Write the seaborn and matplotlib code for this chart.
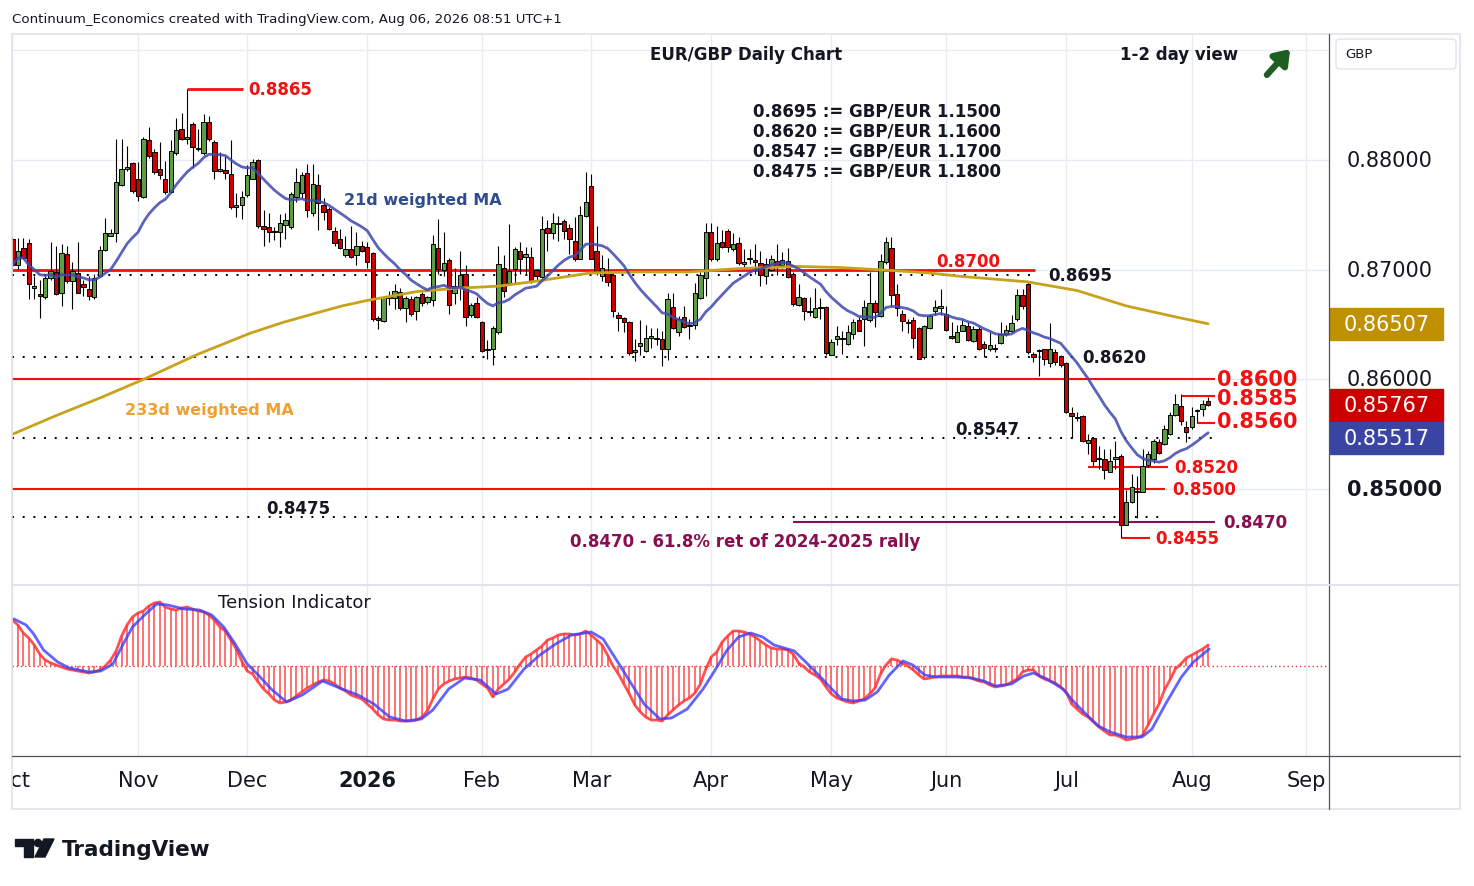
import numpy as np
import pandas as pd
import matplotlib
matplotlib.use("Agg")
import matplotlib.pyplot as plt
import seaborn as sns
from matplotlib.patches import Rectangle, FancyBboxPatch, Polygon, Circle

W, H = 1474, 887

# ---------------- data ----------------
opens = [
    0.8728, 0.8704, 0.8720, 0.8724, 0.8683, 0.8678, 0.8675, 0.8692, 0.8698, 0.8679,
    0.8714, 0.8690, 0.8697, 0.8687, 0.8682, 0.8675, 0.8694, 0.8718, 0.8731, 0.8733,
    0.8777, 0.8792, 0.8797, 0.8783, 0.8766, 0.8818, 0.8807, 0.8792, 0.8783, 0.8771,
    0.8806, 0.8828, 0.8819, 0.8833, 0.8810, 0.8806, 0.8835, 0.8816, 0.8790, 0.8791,
    0.8787, 0.8757, 0.8759, 0.8768, 0.8783, 0.8800, 0.8740, 0.8739, 0.8735, 0.8734,
    0.8741, 0.8739, 0.8766, 0.8770, 0.8788, 0.8752, 0.8777, 0.8759, 0.8755, 0.8735,
    0.8728, 0.8713, 0.8719, 0.8713, 0.8722, 0.8721, 0.8715, 0.8656, 0.8653, 0.8674,
    0.8674, 0.8680, 0.8665, 0.8673, 0.8662, 0.8678, 0.8671, 0.8672, 0.8720, 0.8700,
    0.8709, 0.8679, 0.8684, 0.8696, 0.8659, 0.8670, 0.8652, 0.8627, 0.8628, 0.8643,
    0.8702, 0.8688, 0.8701, 0.8717, 0.8712, 0.8712, 0.8700, 0.8693, 0.8738, 0.8733,
    0.8742, 0.8744, 0.8738, 0.8726, 0.8710, 0.8749, 0.8776, 0.8717, 0.8694, 0.8698,
    0.8695, 0.8659, 0.8656, 0.8652, 0.8625, 0.8630, 0.8626, 0.8638, 0.8638, 0.8637,
    0.8628, 0.8666, 0.8643, 0.8657, 0.8649, 0.8650, 0.8674, 0.8692, 0.8734, 0.8710,
    0.8725, 0.8735, 0.8719, 0.8724, 0.8705, 0.8710, 0.8709, 0.8706, 0.8694, 0.8700,
    0.8708, 0.8704, 0.8708, 0.8696, 0.8668, 0.8674, 0.8662, 0.8657, 0.8665, 0.8666,
    0.8622, 0.8637, 0.8637, 0.8632, 0.8641, 0.8654, 0.8655, 0.8654, 0.8670, 0.8658,
    0.8707, 0.8720, 0.8678, 0.8660, 0.8652, 0.8654, 0.8647, 0.8620, 0.8647, 0.8662,
    0.8665, 0.8660, 0.8640, 0.8634, 0.8644, 0.8649, 0.8635, 0.8646, 0.8632, 0.8628,
    0.8629, 0.8633, 0.8641, 0.8644, 0.8655, 0.8677, 0.8687, 0.8623, 0.8626, 0.8628,
    0.8615, 0.8625, 0.8621, 0.8615, 0.8569, 0.8566, 0.8567, 0.8542, 0.8547, 0.8527,
    0.8527, 0.8516, 0.8527, 0.8530, 0.8467, 0.8488, 0.8497, 0.8497, 0.8522, 0.8527,
    0.8543, 0.8541, 0.8550, 0.8568, 0.8576, 0.8557, 0.8557, 0.8571, 0.8573, 0.8580,
]
highs = [
    0.8731, 0.8729, 0.8729, 0.8728, 0.8694, 0.8691, 0.8694, 0.8725, 0.8722, 0.8723,
    0.8722, 0.8707, 0.8725, 0.8691, 0.8694, 0.8696, 0.8722, 0.8747, 0.8737, 0.8819,
    0.8819, 0.8813, 0.8798, 0.8798, 0.8821, 0.8830, 0.8810, 0.8816, 0.8799, 0.8818,
    0.8838, 0.8843, 0.8865, 0.8835, 0.8828, 0.8842, 0.8840, 0.8818, 0.8807, 0.8804,
    0.8818, 0.8770, 0.8772, 0.8795, 0.8801, 0.8801, 0.8754, 0.8752, 0.8739, 0.8751,
    0.8752, 0.8771, 0.8793, 0.8789, 0.8796, 0.8796, 0.8787, 0.8765, 0.8757, 0.8739,
    0.8737, 0.8731, 0.8740, 0.8734, 0.8726, 0.8725, 0.8716, 0.8658, 0.8676, 0.8681,
    0.8687, 0.8683, 0.8676, 0.8676, 0.8676, 0.8680, 0.8676, 0.8732, 0.8746, 0.8734,
    0.8711, 0.8702, 0.8717, 0.8704, 0.8670, 0.8675, 0.8653, 0.8636, 0.8649, 0.8722,
    0.8713, 0.8742, 0.8721, 0.8725, 0.8721, 0.8721, 0.8701, 0.8749, 0.8745, 0.8752,
    0.8749, 0.8746, 0.8742, 0.8748, 0.8758, 0.8789, 0.8787, 0.8740, 0.8713, 0.8711,
    0.8698, 0.8661, 0.8657, 0.8653, 0.8637, 0.8654, 0.8650, 0.8647, 0.8647, 0.8644,
    0.8679, 0.8679, 0.8658, 0.8667, 0.8655, 0.8688, 0.8698, 0.8743, 0.8743, 0.8740,
    0.8736, 0.8737, 0.8733, 0.8730, 0.8719, 0.8719, 0.8723, 0.8717, 0.8711, 0.8713,
    0.8723, 0.8716, 0.8720, 0.8698, 0.8687, 0.8675, 0.8675, 0.8683, 0.8674, 0.8667,
    0.8637, 0.8649, 0.8644, 0.8650, 0.8655, 0.8657, 0.8672, 0.8698, 0.8672, 0.8714,
    0.8730, 0.8730, 0.8687, 0.8663, 0.8655, 0.8657, 0.8648, 0.8650, 0.8660, 0.8672,
    0.8682, 0.8667, 0.8652, 0.8650, 0.8654, 0.8652, 0.8649, 0.8649, 0.8635, 0.8643,
    0.8632, 0.8652, 0.8650, 0.8659, 0.8682, 0.8682, 0.8689, 0.8625, 0.8628, 0.8628,
    0.8651, 0.8628, 0.8622, 0.8616, 0.8575, 0.8570, 0.8568, 0.8550, 0.8547, 0.8539,
    0.8537, 0.8537, 0.8544, 0.8532, 0.8499, 0.8514, 0.8512, 0.8537, 0.8535, 0.8546,
    0.8546, 0.8558, 0.8570, 0.8587, 0.8587, 0.8562, 0.8575, 0.8573, 0.8581, 0.8584,
]
lows = [
    0.8702, 0.8701, 0.8710, 0.8673, 0.8673, 0.8656, 0.8673, 0.8691, 0.8677, 0.8667,
    0.8688, 0.8664, 0.8679, 0.8676, 0.8672, 0.8673, 0.8694, 0.8717, 0.8731, 0.8725,
    0.8776, 0.8790, 0.8770, 0.8763, 0.8765, 0.8802, 0.8787, 0.8783, 0.8769, 0.8770,
    0.8805, 0.8818, 0.8815, 0.8793, 0.8808, 0.8805, 0.8817, 0.8783, 0.8789, 0.8783,
    0.8755, 0.8748, 0.8746, 0.8766, 0.8783, 0.8738, 0.8722, 0.8725, 0.8727, 0.8721,
    0.8728, 0.8737, 0.8762, 0.8765, 0.8748, 0.8749, 0.8736, 0.8745, 0.8736, 0.8722,
    0.8719, 0.8712, 0.8711, 0.8704, 0.8716, 0.8702, 0.8653, 0.8646, 0.8652, 0.8668,
    0.8664, 0.8663, 0.8652, 0.8658, 0.8654, 0.8667, 0.8669, 0.8667, 0.8696, 0.8694,
    0.8660, 0.8669, 0.8672, 0.8649, 0.8657, 0.8656, 0.8625, 0.8619, 0.8613, 0.8641,
    0.8675, 0.8687, 0.8688, 0.8696, 0.8695, 0.8688, 0.8690, 0.8692, 0.8717, 0.8728,
    0.8726, 0.8728, 0.8714, 0.8708, 0.8710, 0.8748, 0.8710, 0.8695, 0.8690, 0.8685,
    0.8657, 0.8644, 0.8643, 0.8622, 0.8617, 0.8622, 0.8625, 0.8629, 0.8631, 0.8612,
    0.8618, 0.8646, 0.8640, 0.8647, 0.8637, 0.8646, 0.8673, 0.8676, 0.8708, 0.8708,
    0.8720, 0.8716, 0.8717, 0.8704, 0.8701, 0.8705, 0.8696, 0.8685, 0.8687, 0.8699,
    0.8695, 0.8702, 0.8692, 0.8667, 0.8667, 0.8654, 0.8658, 0.8656, 0.8655, 0.8622,
    0.8622, 0.8631, 0.8623, 0.8631, 0.8637, 0.8644, 0.8630, 0.8652, 0.8648, 0.8657,
    0.8705, 0.8667, 0.8658, 0.8644, 0.8642, 0.8629, 0.8619, 0.8619, 0.8646, 0.8659,
    0.8659, 0.8644, 0.8637, 0.8634, 0.8644, 0.8635, 0.8634, 0.8627, 0.8620, 0.8626,
    0.8625, 0.8632, 0.8640, 0.8643, 0.8653, 0.8664, 0.8623, 0.8616, 0.8603, 0.8613,
    0.8611, 0.8613, 0.8611, 0.8569, 0.8547, 0.8562, 0.8543, 0.8532, 0.8521, 0.8518,
    0.8509, 0.8516, 0.8518, 0.8455, 0.8467, 0.8487, 0.8474, 0.8497, 0.8520, 0.8524,
    0.8532, 0.8540, 0.8549, 0.8567, 0.8558, 0.8543, 0.8555, 0.8561, 0.8567, 0.8576,
]
closes = [
    0.8704, 0.8717, 0.8711, 0.8687, 0.8685, 0.8676, 0.8692, 0.8699, 0.8678, 0.8715,
    0.8690, 0.8699, 0.8679, 0.8684, 0.8676, 0.8692, 0.8718, 0.8733, 0.8733, 0.8780,
    0.8792, 0.8794, 0.8772, 0.8767, 0.8819, 0.8804, 0.8789, 0.8786, 0.8771, 0.8808,
    0.8827, 0.8819, 0.8821, 0.8812, 0.8810, 0.8835, 0.8819, 0.8790, 0.8792, 0.8788,
    0.8757, 0.8759, 0.8766, 0.8786, 0.8798, 0.8740, 0.8737, 0.8734, 0.8734, 0.8743,
    0.8745, 0.8769, 0.8780, 0.8786, 0.8754, 0.8778, 0.8761, 0.8753, 0.8737, 0.8724,
    0.8720, 0.8719, 0.8712, 0.8722, 0.8717, 0.8707, 0.8655, 0.8654, 0.8675, 0.8676,
    0.8681, 0.8665, 0.8674, 0.8660, 0.8675, 0.8670, 0.8675, 0.8723, 0.8701, 0.8706,
    0.8668, 0.8685, 0.8695, 0.8657, 0.8668, 0.8657, 0.8626, 0.8628, 0.8647, 0.8705,
    0.8681, 0.8699, 0.8719, 0.8710, 0.8714, 0.8690, 0.8694, 0.8737, 0.8733, 0.8743,
    0.8743, 0.8735, 0.8728, 0.8710, 0.8750, 0.8762, 0.8710, 0.8698, 0.8702, 0.8689,
    0.8662, 0.8656, 0.8652, 0.8624, 0.8627, 0.8633, 0.8638, 0.8640, 0.8637, 0.8628,
    0.8673, 0.8647, 0.8655, 0.8648, 0.8649, 0.8679, 0.8695, 0.8734, 0.8710, 0.8724,
    0.8721, 0.8721, 0.8723, 0.8706, 0.8707, 0.8711, 0.8707, 0.8695, 0.8705, 0.8710,
    0.8703, 0.8709, 0.8693, 0.8669, 0.8675, 0.8662, 0.8661, 0.8665, 0.8665, 0.8624,
    0.8634, 0.8640, 0.8637, 0.8643, 0.8652, 0.8644, 0.8666, 0.8670, 0.8661, 0.8708,
    0.8725, 0.8677, 0.8665, 0.8653, 0.8651, 0.8638, 0.8619, 0.8649, 0.8658, 0.8666,
    0.8667, 0.8645, 0.8638, 0.8643, 0.8650, 0.8636, 0.8646, 0.8628, 0.8629, 0.8631,
    0.8628, 0.8641, 0.8645, 0.8651, 0.8677, 0.8667, 0.8625, 0.8620, 0.8627, 0.8619,
    0.8628, 0.8616, 0.8613, 0.8570, 0.8567, 0.8565, 0.8544, 0.8545, 0.8526, 0.8528,
    0.8517, 0.8526, 0.8529, 0.8467, 0.8488, 0.8502, 0.8498, 0.8521, 0.8532, 0.8544,
    0.8533, 0.8555, 0.8568, 0.8578, 0.8562, 0.8552, 0.8567, 0.8572, 0.8578, 0.85767,
]

# 233d weighted MA, read at a set of bars
ma233_bars = [0, 8, 16, 24, 34, 43.5, 49.6, 56, 60.4, 65, 69.5, 74, 81, 89, 96.6,
              105.8, 115, 124, 133, 143.7, 151.6, 162, 168, 173.5, 185.8, 195, 204,
              213, 219]
ma233_vals = [0.8550, 0.8567, 0.8583, 0.8600, 0.8623, 0.8642, 0.8652, 0.8661, 0.8667,
              0.8672, 0.8676, 0.8680, 0.8683, 0.8685, 0.8690, 0.8697, 0.8698, 0.8698,
              0.8701, 0.8703, 0.8702, 0.8699, 0.8697, 0.8694, 0.8689, 0.8681, 0.8667,
              0.8657, 0.86507]

# Tension indicator (arbitrary units), red per bar, blue signal line
tension_red = [
    4.6, 4.1, 3.3, 2.8, 2.1, 1.2, 0.6, 0.3, 0.1, -0.1,
    -0.3, -0.4, -0.5, -0.6, -0.7, -0.6, -0.4, 0.0, 0.6, 1.5,
    3.0, 4.1, 4.9, 5.3, 5.5, 6.0, 6.3, 6.4, 5.9, 5.7,
    5.6, 5.8, 5.9, 5.7, 5.5, 5.4, 5.1, 4.6, 3.9, 3.5,
    2.6, 1.7, 0.5, -0.5, -0.8, -1.6, -2.3, -2.8, -3.4, -3.7,
    -3.6, -3.4, -3.0, -2.6, -2.2, -1.9, -1.6, -1.4, -1.5, -1.8,
    -2.2, -2.5, -2.9, -3.1, -3.3, -3.8, -4.3, -4.9, -5.3, -5.4,
    -5.4, -5.5, -5.5, -5.5, -5.4, -5.1, -4.5, -3.3, -2.3, -1.8,
    -1.5, -1.3, -1.2, -1.1, -1.2, -1.4, -1.8, -2.2, -3.1, -2.3,
    -1.8, -1.3, -0.6, 0.2, 0.9, 1.2, 1.6, 2.0, 2.6, 2.8,
    3.1, 3.2, 3.2, 3.1, 3.2, 3.5, 3.1, 2.6, 2.1, 1.1,
    0.0, -0.8, -1.8, -2.8, -3.9, -4.6, -5.1, -5.4, -5.4, -5.5,
    -4.9, -4.4, -3.9, -3.5, -3.2, -2.7, -1.8, -0.3, 0.9, 1.4,
    2.4, 3.0, 3.5, 3.5, 3.4, 3.2, 2.9, 2.5, 2.1, 1.8,
    1.7, 1.7, 1.6, 1.2, 0.3, -0.1, -0.6, -0.9, -1.3, -2.1,
    -2.8, -3.2, -3.4, -3.6, -3.7, -3.5, -3.3, -2.8, -2.2, -0.8,
    0.1, 0.7, 0.6, 0.3, 0.0, -0.4, -0.9, -1.3, -1.2, -1.1,
    -1.0, -1.0, -1.0, -1.0, -1.1, -1.1, -1.3, -1.5, -1.6, -1.9,
    -2.1, -2.0, -1.9, -1.6, -1.3, -0.6, -0.4, -0.4, -1.0, -1.3,
    -1.5, -1.7, -2.1, -2.6, -3.8, -4.3, -4.8, -5.1, -5.6, -6.1,
    -6.5, -6.9, -6.9, -7.1, -7.4, -7.3, -7.2, -6.9, -5.9, -4.8,
    -3.8, -2.4, -1.4, -0.3, 0.2, 0.8, 1.1, 1.4, 1.7, 2.1,
]
blue_bars = [0.3, 2.5, 3.9, 5.7, 8.3, 10.4, 14, 16.2, 18.4, 20.2, 22, 24.2, 26.4,
             28.5, 31.4, 34.3, 36.5, 38.7, 40.8, 43, 45.2, 47.4, 50.2, 53.1, 56.8,
             60.4, 63.3, 66.2, 69.1, 72, 74.9, 77, 79.9, 82.8, 85.7, 88.6, 90.8,
             93.7, 96.6, 99.5, 102.4, 106, 108.2, 111.1, 113.5, 115.7, 118.6, 120.7,
             123.6, 126.5, 128.7, 130.9, 133, 135.2, 137.4, 139.5, 143.2, 145.3,
             147.5, 149.7, 151.9, 154, 156.2, 158.4, 160.6, 163.1, 164.9, 167.1,
             169.2, 172.9, 175.7, 177.9, 180.1, 183, 185.2, 187, 189.5, 192.4,
             194.6, 196.8, 198.9, 201.1, 204, 206.9, 208.7, 211.2, 214.1, 216.3, 219.2]
blue_vals = [4.7, 4.1, 3.2, 1.6, 0.4, -0.2, -0.6, -0.5, 0.2, 2.1, 3.9, 5.1, 6.2,
             6.1, 5.7, 5.6, 5.1, 3.9, 2.2, 0.2, -1.0, -2.3, -3.6, -2.9, -1.5,
             -2.3, -2.9, -3.8, -5.1, -5.5, -5.3, -4.4, -2.3, -1.2, -1.4, -2.8, -2.3,
             -0.3, 1.1, 2.2, 3.1, 3.4, 2.7, 0.2, -1.9, -3.8, -5.3, -5.2,
             -4.3, -2.3, -0.4, 1.6, 2.9, 3.3, 2.9, 2.1, 1.5, 0.4,
             -0.8, -2.1, -3.3, -3.5, -3.4, -2.6, -0.9, 0.5, 0.1, -0.9,
             -1.1, -1.1, -1.2, -1.5, -2.0, -1.8, -1.0, -0.7, -1.3, -2.3,
             -3.7, -4.9, -6.0, -6.6, -7.1, -7.1, -6.3, -3.8, -1.1, 0.4, 1.7]

last_close = 0.85767
last_wma21 = 0.85517
last_wma233 = 0.86507
axis_prices = [0.88, 0.87, 0.86, 0.85]
grid_prices = [0.85, 0.86, 0.87, 0.88, 0.89]
gbp_levels = [0.8695, 0.8620, 0.8547, 0.8475]
gbp_rates = [1.15, 1.16, 1.17, 1.18]
fib_level = 0.8470

# ---------------- styling ----------------
sns.set_theme(style="white")
plt.rcParams["font.family"] = ["DejaVu Sans"]

RED = "#f21010"
DARK = "#131722"
MAROON = "#880e4f"
GREEN_C = "#5f9c46"
RED_C = "#cc0000"

days = pd.bdate_range("2025-10-01", "2026-09-30")
days = days[~days.isin(pd.to_datetime(["2025-12-25", "2026-01-01"]))]
cal = pd.DataFrame({"date": days, "bar": np.arange(len(days))})
cal["ym"] = cal["date"].dt.to_period("M")
months = cal.groupby("ym").first().reset_index()

df = pd.DataFrame({"open": opens, "high": highs, "low": lows, "close": closes})
df["bar"] = np.arange(len(df))
wts = np.arange(1, 22)
df["wma21"] = df["close"].rolling(21, min_periods=1).apply(
    lambda x: np.dot(x, wts[-len(x):]) / wts[-len(x):].sum(), raw=True)
df["up"] = df["close"] >= df["open"]

# pixel geometry of the TradingView layout
X0, DX = 12.4, 5.46
PPX = 10970.0


def bx(px):
    return (px - X0) / DX


def py(px):
    return 0.88 - (px - 161) / PPX


fig = plt.figure(figsize=(W / 100, H / 100), dpi=100)


def px_axes(x0, y0, x1, y1):
    return fig.add_axes([x0 / W, 1 - y1 / H, (x1 - x0) / W, (y1 - y0) / H])


ax = px_axes(12, 35, 1329, 585)
axi = px_axes(12, 587, 1329, 757)
axd = px_axes(12, 757, 1329, 810)
axp = px_axes(1329, 35, 1460, 585)

xl = (bx(12), bx(1329))
yl = (py(585), py(35))

# grid
for b in months["bar"]:
    ax.axvline(b, color="#e6ecf3", lw=1, zorder=0)
    axi.axvline(b, color="#e6ecf3", lw=1, zorder=0)
for p in grid_prices:
    ax.axhline(p, color="#e6ecf3", lw=1, zorder=0)

# levels
ax.hlines(0.8865, 32, bx(243), color=RED, lw=2, zorder=2)
ax.hlines(0.8700, xl[0], bx(1035), color=RED, lw=2, zorder=2)
ax.hlines(0.8600, xl[0], bx(1215), color=RED, lw=1.5, zorder=2)
ax.hlines(0.8585, bx(1182), bx(1215), color=RED, lw=1.5, zorder=2)
ax.hlines(0.8560, bx(1197), bx(1215), color=RED, lw=1.5, zorder=2)
ax.hlines(0.8520, bx(1088), bx(1168), color=RED, lw=1.5, zorder=2)
ax.hlines(0.8500, xl[0], bx(1165), color=RED, lw=1.5, zorder=2)
ax.hlines(0.8455, bx(1122), bx(1150), color=RED, lw=1.5, zorder=2)
ax.hlines(fib_level, bx(793), bx(1215), color=MAROON, lw=1.5, zorder=2)
dot_ends = [bx(1037), bx(1077), bx(1213), bx(1165)]
for lvl, xe in zip(gbp_levels, dot_ends):
    ax.hlines(lvl, xl[0], xe, color="black", lw=1.4, ls=(0, (1, 4.5)), zorder=2)

# candles
ax.vlines(df["bar"], df["low"], df["high"], color="black", lw=0.8, zorder=3)
body_h = (df["close"] - df["open"]).abs().clip(lower=0.00006)
body_b = df[["open", "close"]].min(axis=1)
ax.bar(df["bar"], body_h, bottom=body_b, width=0.8,
       color=np.where(df["up"], GREEN_C, RED_C), edgecolor="black",
       linewidth=0.7, zorder=4)

# moving averages
sns.lineplot(x=ma233_bars, y=ma233_vals, ax=ax, color="#c9a21c", linewidth=2.0, zorder=5)
sns.lineplot(x=df["bar"], y=df["wma21"], ax=ax, color="#3f48b0", linewidth=2.0,
             alpha=0.85, zorder=5)

# level labels
lab = dict(fontsize=12, fontweight="bold", zorder=6)
ax.text(bx(248), 0.8865, "0.8865", color=RED, va="center", **lab)
ax.text(bx(936), 0.8700, "0.8700", color=RED, va="bottom", **lab)
ax.text(bx(1048), gbp_levels[0], f"{gbp_levels[0]:.4f}", color=DARK, va="center", **lab)
ax.text(bx(1082), gbp_levels[1], f"{gbp_levels[1]:.4f}", color=DARK, va="center", **lab)
ax.text(bx(955), gbp_levels[2], f"{gbp_levels[2]:.4f}", color=DARK, va="bottom", **lab)
ax.text(bx(266), gbp_levels[3], f"{gbp_levels[3]:.4f}", color=DARK, va="bottom", **lab)
big = dict(fontsize=15, fontweight="bold", color=RED, va="center", zorder=6)
ax.text(bx(1217), 0.8600, "0.8600", **big)
ax.text(bx(1217), 0.8585 - 0.0002, "0.8585", **big)
ax.text(bx(1217), 0.8560 + 0.0002, "0.8560", **big)
ax.text(bx(1174), 0.8520, "0.8520", color=RED, va="center", **lab)
ax.text(bx(1172), 0.8500, "0.8500", color=RED, va="center", **lab)
ax.text(bx(1223), fib_level, f"{fib_level:.4f}", color=MAROON, va="center", **lab)
ax.text(bx(1155), 0.8455, "0.8455", color=RED, va="center", **lab)
ax.annotate(f"{fib_level:.4f} - 61.8% ret of 2024-2025 rally", xy=(bx(570), fib_level),
            xytext=(0, -7), textcoords="offset points", va="top", ha="left",
            color=MAROON, fontsize=12, fontweight="bold")

ax.set_xlim(xl)
ax.set_ylim(yl)
ax.set_axis_off()

# tension indicator
axi.vlines(df["bar"], 0, tension_red, color="#ff4d4d", lw=1.3, alpha=0.85, zorder=2)
axi.axhline(0, color="#e53935", lw=1.0, ls=(0, (1, 2)), zorder=1)
sns.lineplot(x=df["bar"], y=tension_red, ax=axi, color="#ff3333", linewidth=2.0,
             alpha=0.85, zorder=3)
sns.lineplot(x=blue_bars, y=blue_vals, ax=axi, color="#3c3cff", linewidth=2.0,
             alpha=0.8, zorder=4)
axi.set_xlim(xl)
axi.set_ylim(-9, 8)
axi.set_axis_off()

# date axis (the first label is cut at the left edge, as in the original)
axd.set_xlim(xl)
axd.set_ylim(0, 1)
axd.set_axis_off()
for _, r in months.iterrows():
    is_year = r["date"].month == 1
    txt = str(r["date"].year) if is_year else r["date"].strftime("%b")
    axd.text(r["bar"], 0.55, txt, ha="center", va="center", fontsize=15,
             fontweight="bold" if is_year else "normal", color=DARK, clip_on=True)

# price scale
axp.set_xlim(1329, 1460)
axp.set_ylim(yl)
axp.set_axis_off()
for p in axis_prices:
    axp.text(1390 if p != 0.85 else 1395, p, f"{p:.5f}", ha="center", va="center",
             fontsize=15, color=DARK, fontweight="bold" if p == 0.85 else "normal")
hh = 16 / PPX
boxes = [(last_wma233, "#bf9000"), (last_close, "#cc0000"),
         (last_close - 2 * hh - 1.5 / PPX, "#3a45a3")]
texts = [last_wma233, last_close, last_wma21]
for (yc, col), val in zip(boxes, texts):
    axp.add_patch(Rectangle((1330, yc - hh), 113, 2 * hh, color=col, zorder=3))
    axp.text(1387, yc, f"{val:.5f}", ha="center", va="center", fontsize=15,
             color="white", zorder=4)

# overlay in pixel coordinates
ov = fig.add_axes([0, 0, 1, 1])
ov.set_xlim(0, W)
ov.set_ylim(H, 0)
ov.axis("off")
ov.add_patch(Rectangle((12, 35), 1448, 775, fill=False, ec="#e0e3eb", lw=1.2))
ov.plot([1329, 1329], [35, 810], color="#50535e", lw=0.9)
ov.plot([12, 1460], [757, 757], color="#50535e", lw=0.9)
ov.plot([12, 1460], [586, 586], color="#e0e3eb", lw=1.5)
ov.add_patch(FancyBboxPatch((1336, 40), 120, 30, boxstyle="round,pad=0,rounding_size=4",
                            fc="white", ec="#e0e3eb", lw=1))
ov.text(1345, 55, "GBP", fontsize=9.5, color=DARK, va="center")

ov.text(12, 19, "Continuum_Economics created with TradingView.com, Aug 06, 2026 08:51 UTC+1",
        fontsize=9.6, color=DARK, va="center")
ov.text(650, 55, "EUR/GBP Daily Chart", fontsize=12, fontweight="bold", color=DARK, va="center")
ov.text(1120, 55, "1-2 day view", fontsize=12, fontweight="bold", color=DARK, va="center")
ov.annotate("", xy=(1292, 48), xytext=(1265, 78),
            arrowprops=dict(arrowstyle="-|>,head_length=0.7,head_width=0.5",
                            color="#1e5e20", lw=4.5))
for k, (lvl, rate) in enumerate(zip(gbp_levels, gbp_rates)):
    ov.text(753, 112 + 20 * k, f"{lvl:.4f} := GBP/EUR {rate:.4f}", fontsize=12,
            fontweight="bold", color=DARK, va="center")
ov.text(423, 201, "21d weighted MA", fontsize=11.5, fontweight="bold", color="#2e4d8e",
        ha="center", va="center")
ov.text(209, 411, "233d weighted MA", fontsize=11.5, fontweight="bold", color="#f0a030",
        ha="center", va="center")
ov.text(218, 603, "Tension Indicator", fontsize=13, color=DARK, va="center")

# TradingView logo
ov.add_patch(Polygon([(15, 840), (33, 840), (33, 858), (24, 858), (24, 847), (15, 847)],
                     closed=True, color=DARK))
ov.add_patch(Circle((38, 844), 3.6, color=DARK))
ov.add_patch(Polygon([(44, 840), (54, 840), (45, 858), (35, 858)], closed=True, color=DARK))
ov.text(62, 850, "TradingView", fontsize=15.5, fontweight="bold", color=DARK, va="center")

fig.savefig("out.png", dpi=100)
